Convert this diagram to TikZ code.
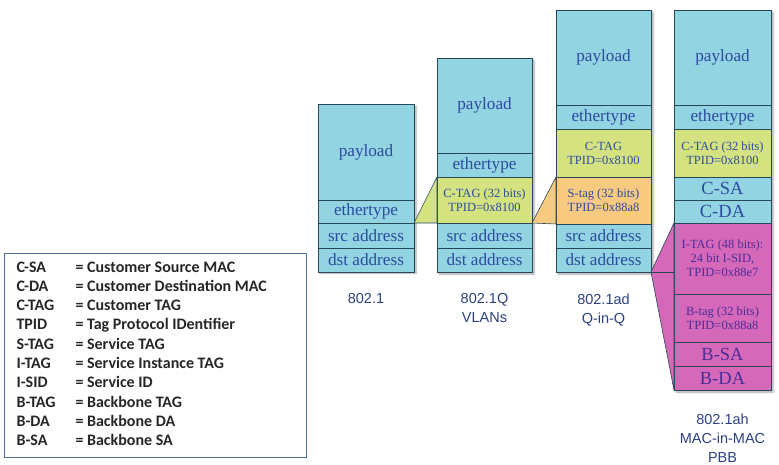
\documentclass[tikz,border=0pt]{standalone}
\usepackage{fontspec}
\setmainfont{Liberation Serif}
\newfontfamily\legfont{Carlito}
\newfontfamily\labfont{Liberation Sans}
\usetikzlibrary{shadows.blur}
\definecolor{cyanfill}{RGB}{146,212,226}
\definecolor{greenfill}{RGB}{212,226,128}
\definecolor{orangefill}{RGB}{247,202,128}
\definecolor{pinkfill}{RGB}{214,104,186}
\definecolor{edgecol}{RGB}{40,70,85}
\definecolor{txtblue}{RGB}{45,75,160}
\definecolor{txtpurple}{RGB}{75,45,150}
\definecolor{labblue}{RGB}{45,65,130}
\definecolor{legborder}{RGB}{80,110,160}
\begin{document}
\begin{tikzpicture}[x=1pt,y=-1pt,
  cell/.style={draw=edgecol, line width=0.6pt, fill=#1, inner sep=0pt, outer sep=0pt,
    anchor=north west, align=center, text=txtblue, font=\fontsize{17.2}{19}\selectfont},
  small/.style={font=\fontsize{12.5}{14}\selectfont},
  big/.style={font=\fontsize{18.5}{20}\selectfont},
  pcell/.style={cell=pinkfill, text=txtpurple},
  colshadow/.style={fill=white, draw=none, blur shadow={shadow xshift=2pt, shadow yshift=-2pt, shadow blur steps=6, shadow opacity=35}},
  tri/.style={draw=edgecol, line width=0.6pt, line join=round},
  lab/.style={text=labblue, align=center, font=\labfont\fontsize{14.5}{19}\selectfont, anchor=north},
  legk/.style={anchor=base west, font=\legfont\bfseries\fontsize{16}{18}\selectfont, text=black!85},
]
\useasboundingbox (0,0) rectangle (779,465);
% shadows
\path[colshadow] (318,104) rectangle (414,271);
\path[colshadow] (437,58) rectangle (532,272);
\path[colshadow] (556,10) rectangle (651,272);
\path[colshadow] (674,10) rectangle (771,390);
% column 1
\node[cell=cyanfill, minimum width=96pt, minimum height=96pt] (c1p) at (318,104) {payload};
\node[cell=cyanfill, minimum width=96pt, minimum height=23pt] (c1e) at (318,200) {ethertype};
\node[cell=cyanfill, minimum width=96pt, minimum height=25pt] (c1s) at (318,223) {src address};
\node[cell=cyanfill, minimum width=96pt, minimum height=24pt] (c1d) at (318,248) {dst address};
% column 2
\node[cell=cyanfill, minimum width=95pt, minimum height=95pt] (c2p) at (437,58) {payload};
\node[cell=cyanfill, minimum width=95pt, minimum height=24pt] (c2e) at (437,153) {ethertype};
\node[cell=greenfill, small, minimum width=95pt, minimum height=46pt] (c2c) at (437,177) {C-TAG (32 bits)\\TPID=0x8100};
\node[cell=cyanfill, minimum width=95pt, minimum height=25pt] (c2s) at (437,223) {src address};
\node[cell=cyanfill, minimum width=95pt, minimum height=24pt] (c2d) at (437,248) {dst address};
% column 3
\node[cell=cyanfill, minimum width=95pt, minimum height=95pt] (c3p) at (556,10) {payload};
\node[cell=cyanfill, minimum width=95pt, minimum height=24pt] (c3e) at (556,105) {ethertype};
\node[cell=greenfill, small, minimum width=95pt, minimum height=48pt] (c3c) at (556,129) {C-TAG\\TPID=0x8100};
\node[cell=orangefill, small, minimum width=95pt, minimum height=47pt] (c3t) at (556,177) {S-tag (32 bits)\\TPID=0x88a8};
\node[cell=cyanfill, minimum width=95pt, minimum height=24pt] (c3s) at (556,224) {src address};
\node[cell=cyanfill, minimum width=95pt, minimum height=24pt] (c3d) at (556,248) {dst address};
% column 4
\node[cell=cyanfill, minimum width=97pt, minimum height=95pt] (c4p) at (674,10) {payload};
\node[cell=cyanfill, minimum width=97pt, minimum height=24pt] (c4e) at (674,105) {ethertype};
\node[cell=greenfill, small, minimum width=97pt, minimum height=48pt] (c4c) at (674,129) {C-TAG (32 bits)\\TPID=0x8100};
\node[cell=cyanfill, big, minimum width=97pt, minimum height=23pt] (c4sa) at (674,177) {C-SA};
\node[cell=cyanfill, big, minimum width=97pt, minimum height=23pt] (c4da) at (674,200) {C-DA};
\node[pcell, small, minimum width=97pt, minimum height=71pt] (c4i) at (674,223) {I-TAG (48 bits):\\24 bit I-SID,\\TPID=0x88e7};
\node[pcell, small, minimum width=97pt, minimum height=48pt] (c4b) at (674,294) {B-tag (32 bits)\\TPID=0x88a8};
\node[pcell, big, minimum width=97pt, minimum height=24pt] (c4bsa) at (674,342) {B-SA};
\node[pcell, big, minimum width=97pt, minimum height=24pt] (c4bda) at (674,366) {B-DA};
% connectors
\filldraw[tri, fill=greenfill] (c1e.south east) -- (c2c.north west) -- (c2c.south west) -- cycle;
\filldraw[tri, fill=orangefill] (c2c.south east) -- (c3t.north west) -- (c3t.south west) -- cycle;
\filldraw[tri, fill=pinkfill] (c3d.south east) -- (c4i.north west) -- (c4bda.south west) -- cycle;
\coordinate (pinkend) at (c3d.south east -| c4i.west);
\draw[tri] (c3d.south east) -- (pinkend);
% labels
\node[lab] (l1) at (366,290) {802.1};
\node[lab] (l2) at (484.5,290) {802.1Q\\VLANs};
\node[lab] (l3) at (603.5,290) {802.1ad\\Q-in-Q};
\node[lab] (l4) at (722.5,410) {802.1ah\\MAC-in-MAC\\PBB};
% legend
\draw[legborder, line width=0.8pt] (4,253) rectangle (306,457);
\foreach \k/\v [count=\i from 0] in {C-SA/Customer Source MAC, C-DA/Customer Destination MAC, C-TAG/Customer TAG, TPID/Tag Protocol IDentifier, S-TAG/Service TAG, I-TAG/Service Instance TAG, I-SID/Service ID, B-TAG/Backbone TAG, B-DA/Backbone DA, B-SA/Backbone SA}{
  \node[legk] (k\i) at (13,{272+19.3*\i}) {\k};
  \node[legk] (v\i) at (72,{272+19.3*\i}) {= \v};
}
\end{tikzpicture}
\end{document}
